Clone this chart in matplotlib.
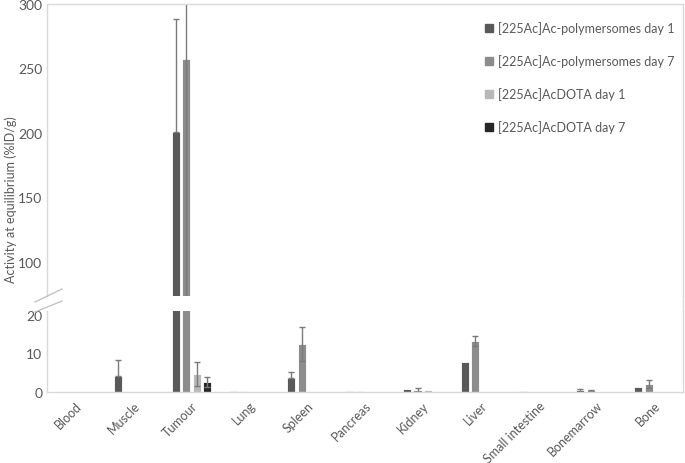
import numpy as np
import matplotlib
matplotlib.use("Agg")
import matplotlib.pyplot as plt
from matplotlib.lines import Line2D

plt.rcParams['font.family'] = ['Lato', 'DejaVu Sans']

organs = ["Blood", "Muscle", "Tumour", "Lung", "Spleen", "Pancreas", "Kidney",
          "Liver", "Small intestine", "Bonemarrow", "Bone"]
series = ["[225Ac]Ac-polymersomes day 1", "[225Ac]Ac-polymersomes day 7",
          "[225Ac]AcDOTA day 1", "[225Ac]AcDOTA day 7"]

poly_d1 = [0.05, 4.1, 201, 0.2, 3.6, 0.15, 0.7, 7.7, 0.15, 0.4, 1.2]
poly_d7 = [0.05, 0.05, 257, 0.15, 12.5, 0.2, 0.6, 13.2, 0.1, 0.4, 2.1]
dota_d1 = [0.05, 0.05, 4.7, 0.05, 0.05, 0.05, 0.4, 0.1, 0.05, 0.1, 0.1]
dota_d7 = [0.05, 0.05, 2.6, 0.05, 0.05, 0.05, 0.1, 0.1, 0.05, 0.05, 0.05]

# error bars (lower, upper)
poly_d1_lo = [0, 0, 0, 0, 0, 0, 0, 0, 0, 0.3, 0]
poly_d1_hi = [0, 4.2, 87, 0, 1.7, 0, 0, 0, 0, 0.3, 0]
poly_d7_lo = [0, 0, 200, 0, 4.4, 0, 0.5, 1.4, 0, 0.2, 1.0]
poly_d7_hi = [0, 0, 80, 0, 4.4, 0, 0.5, 1.4, 0, 0.2, 1.0]
dota_d1_lo = [0, 0, 3.1, 0, 0, 0, 0, 0, 0, 0, 0]
dota_d1_hi = [0, 0, 3.1, 0, 0, 0, 0, 0, 0, 0, 0]
dota_d7_lo = [0, 0, 1.2, 0, 0, 0, 0, 0, 0, 0, 0]
dota_d7_hi = [0, 0, 1.2, 0, 0, 0, 0, 0, 0, 0, 0]

values = [poly_d1, poly_d7, dota_d1, dota_d7]
errors = [(poly_d1_lo, poly_d1_hi), (poly_d7_lo, poly_d7_hi),
          (dota_d1_lo, dota_d1_hi), (dota_d7_lo, dota_d7_hi)]
colors = ["#595959", "#8c8c8c", "#b8b8b8", "#262626"]

W, H = 685, 464
fig = plt.figure(figsize=(W / 100, H / 100), dpi=100)
left, right = 47 / W, 683 / W
ax_top = fig.add_axes([left, 1 - 297 / H, right - left, (297 - 5) / H])
ax_bot = fig.add_axes([left, 1 - 393 / H, right - left, (393 - 312) / H])

x = np.arange(len(organs))
step = 0.183
width = 0.14
border = "#d9d9d9"
txt = "#595959"

for ax in (ax_top, ax_bot):
    for i, (vals, (lo, hi)) in enumerate(zip(values, errors)):
        pos = x + (i - 1.5) * step
        ax.bar(pos, vals, width, color=colors[i], edgecolor="white",
               linewidth=0.6, label=series[i])
        lo, hi = np.array(lo), np.array(hi)
        m = hi > 0
        ax.errorbar(pos[m], np.array(vals)[m], yerr=[lo[m], hi[m]], fmt="none",
                    ecolor="#7a7a7a", elinewidth=1.0, capsize=2.5, capthick=1.0)
    ax.set_xlim(-0.5, len(organs) - 0.5)
    ax.tick_params(axis="both", length=0, labelsize=10, labelcolor=txt)
    for s in ax.spines.values():
        s.set_color(border)
        s.set_linewidth(1.0)

ax_top.set_ylim(73.6, 300)
ax_top.set_yticks([100, 150, 200, 250, 300])
ax_top.spines["bottom"].set_visible(False)
ax_top.set_xticks([])

ax_bot.set_ylim(0, 21)
ax_bot.set_yticks([0, 10, 20])
ax_bot.spines["top"].set_visible(False)
ax_bot.set_xticks(x)
ax_bot.set_xticklabels(organs, rotation=45, ha="right", rotation_mode="anchor",
                       fontsize=9, color=txt)
ax_bot.tick_params(axis="x", pad=5)

# right border across the gap and the break marks
fig.add_artist(Line2D([right, right], [1 - 297 / H, 1 - 312 / H],
                      color=border, lw=1.0, transform=fig.transFigure))
for y0, y1 in [(303, 290), (313, 302)]:
    fig.add_artist(Line2D([35 / W, 62 / W], [1 - y0 / H, 1 - y1 / H],
                          color="#bfbfbf", lw=0.9, transform=fig.transFigure))

fig.text(11 / W, 1 - 200 / H, "Activity at equilibrium (%ID/g)", rotation=90,
         ha="center", va="center", fontsize=9, color=txt)

handles = [plt.Rectangle((0, 0), 1, 1, color=c) for c in colors]
fig.legend(handles, series, loc="upper left", bbox_to_anchor=(474 / W, 1 - 11 / H),
           frameon=False, fontsize=9, labelcolor=txt, handlelength=0.65,
           handleheight=0.65, handletextpad=0.4, labelspacing=1.6)

fig.savefig("out.png", dpi=100)
